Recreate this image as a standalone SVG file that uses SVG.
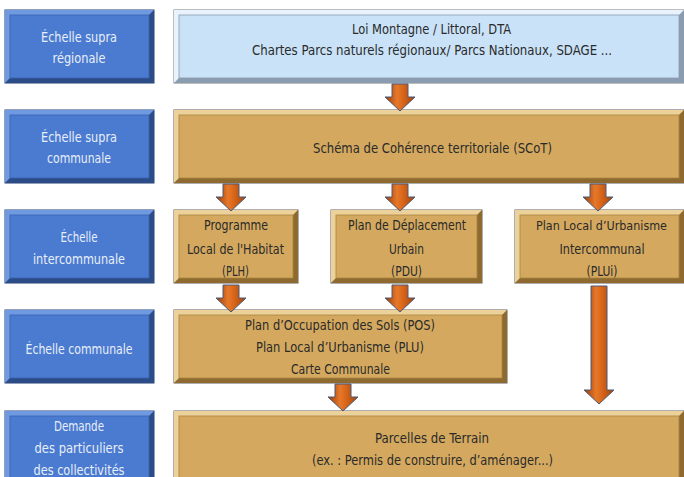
<svg xmlns="http://www.w3.org/2000/svg" xmlns:xlink="http://www.w3.org/1999/xlink" width="684" height="477" viewBox="0 0 684 477">
<style>
text{font-family:"Liberation Sans Narrow","DejaVu Sans Condensed","Liberation Sans",sans-serif;font-size:14.5px;text-anchor:middle}
.tb{fill:#e9eef7}
.td{fill:#2a2a2a}
.sm{font-size:13px}
.bo{fill:#4a7bd1;stroke:#27406e;stroke-width:1}
.bl{fill:#6f9ae2}
.bd{fill:#2c4c88}
.bi{fill:#4a7bd1;stroke:#3a63ac;stroke-width:0.8}
.go{fill:#d4a95f;stroke:#5e5e5e;stroke-width:1}
.gl{fill:#ecd29a}
.gd{fill:#8e6a30}
.gi{fill:#d4a95f;stroke:#a8843f;stroke-width:0.8}
.lo{fill:#c9e2f8;stroke:#7d7d7d;stroke-width:1}
.ll{fill:#e8f3fd}
.ld{fill:#8a9cb0}
.li{fill:#c9e2f8;stroke:#8d9bab;stroke-width:0.8}
.arr{fill:url(#ag);stroke:#4a5a78;stroke-width:1}
</style>
<defs>
<linearGradient id="ag" x1="0" y1="0" x2="1" y2="0">
<stop offset="0" stop-color="#9a3a08"/>
<stop offset="0.4" stop-color="#e6782a"/>
<stop offset="0.6" stop-color="#d8661a"/>
<stop offset="1" stop-color="#a0420c"/>
</linearGradient>
<g id="blueBox">
<rect class="bo" x="0" y="0" width="149" height="73"/>
<polygon class="bl" points="0,0 149,0 144,5 5,5 5,68 0,73"/>
<polygon class="bd" points="149,0 149,73 0,73 5,68 144,68 144,5"/>
<rect class="bi" x="5" y="5" width="139" height="63"/>
</g>
<path id="arrS" class="arr" d="M-8,0 H8 V13 H15 L0,27 L-15,13 H-8 Z"/>
<path id="arrL" class="arr" d="M-8,0 H8 V104 H15 L0,118 L-15,104 H-8 Z"/>
</defs>
<rect width="684" height="477" fill="#ffffff"/>

<g id="scale-supra-regionale">
<use xlink:href="#blueBox" x="5" y="10"/>
<text class="tb" x="79" y="42" textLength="76" lengthAdjust="spacingAndGlyphs">Échelle supra</text>
<text class="tb" x="79" y="63" textLength="53" lengthAdjust="spacingAndGlyphs">régionale</text>
</g>
<g id="scale-supra-communale">
<use xlink:href="#blueBox" x="5" y="110"/>
<text class="tb" x="79" y="142" textLength="76" lengthAdjust="spacingAndGlyphs">Échelle supra</text>
<text class="tb" x="79" y="163" textLength="64" lengthAdjust="spacingAndGlyphs">communale</text>
</g>
<g id="scale-intercommunale">
<use xlink:href="#blueBox" x="5" y="210"/>
<text class="tb" x="79" y="242" textLength="37" lengthAdjust="spacingAndGlyphs">Échelle</text>
<text class="tb" x="79" y="264" textLength="92" lengthAdjust="spacingAndGlyphs">intercommunale</text>
</g>
<g id="scale-communale">
<use xlink:href="#blueBox" x="5" y="310"/>
<text class="tb" x="79" y="354" textLength="107" lengthAdjust="spacingAndGlyphs">Échelle communale</text>
</g>
<g id="scale-demande" transform="translate(5,411)">
<rect class="bo" x="0" y="0" width="149" height="80"/>
<polygon class="bl" points="0,0 149,0 144,5 5,5 5,75 0,80"/>
<polygon class="bd" points="149,0 149,80 0,80 5,75 144,75 144,5"/>
<rect class="bi" x="5" y="5" width="139" height="70"/>
<text class="tb" x="74" y="20" textLength="50" lengthAdjust="spacingAndGlyphs">Demande</text>
<text class="tb" x="74" y="42" textLength="89" lengthAdjust="spacingAndGlyphs">des particuliers</text>
<text class="tb" x="74" y="64" textLength="91" lengthAdjust="spacingAndGlyphs">des collectivités</text>
</g>

<g id="loi-montagne" transform="translate(174,10)">
<rect class="lo" x="0" y="0" width="510" height="73"/>
<polygon class="ll" points="0,0 510,0 505,5 5,5 5,68 0,73"/>
<polygon class="ld" points="510,0 510,73 0,73 5,68 505,68 505,5"/>
<rect class="li" x="5" y="5" width="500" height="63"/>
<text class="td" x="257.5" y="24" textLength="159" lengthAdjust="spacingAndGlyphs">Loi Montagne / Littoral, DTA</text>
<text class="td" x="258" y="45" textLength="360" lengthAdjust="spacingAndGlyphs">Chartes Parcs naturels régionaux/ Parcs Nationaux, SDAGE ...</text>
</g>
<g id="scot" transform="translate(174,110)">
<rect class="go" x="0" y="0" width="510" height="73"/>
<polygon class="gl" points="0,0 510,0 505,5 5,5 5,68 0,73"/>
<polygon class="gd" points="510,0 510,73 0,73 5,68 505,68 505,5"/>
<rect class="gi" x="5" y="5" width="500" height="63"/>
<text class="td" x="258.5" y="43" textLength="239" lengthAdjust="spacingAndGlyphs">Schéma de Cohérence territoriale (SCoT)</text>
</g>
<g id="plh" transform="translate(174,210)">
<rect class="go" x="0" y="0" width="124" height="73"/>
<polygon class="gl" points="0,0 124,0 119,5 5,5 5,68 0,73"/>
<polygon class="gd" points="124,0 124,73 0,73 5,68 119,68 119,5"/>
<rect class="gi" x="5" y="5" width="114" height="63"/>
<text class="td" x="62" y="20" textLength="64" lengthAdjust="spacingAndGlyphs">Programme</text>
<text class="td" x="61.5" y="44" textLength="97" lengthAdjust="spacingAndGlyphs">Local de l'Habitat</text>
<text class="td" x="61.5" y="66" textLength="27" lengthAdjust="spacingAndGlyphs">(PLH)</text>
</g>
<g id="pdu" transform="translate(331,210)">
<rect class="go" x="0" y="0" width="151" height="73"/>
<polygon class="gl" points="0,0 151,0 146,5 5,5 5,68 0,73"/>
<polygon class="gd" points="151,0 151,73 0,73 5,68 146,68 146,5"/>
<rect class="gi" x="5" y="5" width="141" height="63"/>
<text class="td" x="76" y="20" textLength="118" lengthAdjust="spacingAndGlyphs">Plan de Déplacement</text>
<text class="td" x="75.5" y="44" textLength="35" lengthAdjust="spacingAndGlyphs">Urbain</text>
<text class="td" x="75.5" y="66" textLength="31" lengthAdjust="spacingAndGlyphs">(PDU)</text>
</g>
<g id="plui" transform="translate(515,210)">
<rect class="go" x="0" y="0" width="169" height="73"/>
<polygon class="gl" points="0,0 169,0 164,5 5,5 5,68 0,73"/>
<polygon class="gd" points="169,0 169,73 0,73 5,68 164,68 164,5"/>
<rect class="gi" x="5" y="5" width="159" height="63"/>
<text class="td sm" x="86.5" y="20" textLength="131" lengthAdjust="spacingAndGlyphs">Plan Local d’Urbanisme</text>
<text class="td" x="87" y="44" textLength="85" lengthAdjust="spacingAndGlyphs">Intercommunal</text>
<text class="td" x="87" y="66" textLength="31" lengthAdjust="spacingAndGlyphs">(PLUi)</text>
</g>
<g id="plu" transform="translate(174,310)">
<rect class="go" x="0" y="0" width="333" height="73"/>
<polygon class="gl" points="0,0 333,0 328,5 5,5 5,68 0,73"/>
<polygon class="gd" points="333,0 333,73 0,73 5,68 328,68 328,5"/>
<rect class="gi" x="5" y="5" width="323" height="63"/>
<text class="td" x="166" y="20" textLength="190" lengthAdjust="spacingAndGlyphs">Plan d’Occupation des Sols (POS)</text>
<text class="td" x="166" y="42" textLength="168" lengthAdjust="spacingAndGlyphs">Plan Local d’Urbanisme (PLU)</text>
<text class="td" x="166.5" y="64" textLength="99" lengthAdjust="spacingAndGlyphs">Carte Communale</text>
</g>
<g id="parcelles" transform="translate(174,411)">
<rect class="go" x="0" y="0" width="510" height="80"/>
<polygon class="gl" points="0,0 510,0 505,5 5,5 5,75 0,80"/>
<polygon class="gd" points="510,0 510,80 0,80 5,75 505,75 505,5"/>
<rect class="gi" x="5" y="5" width="500" height="70"/>
<text class="td" x="258" y="32" textLength="114" lengthAdjust="spacingAndGlyphs">Parcelles de Terrain</text>
<text class="td" x="258.5" y="54" textLength="241" lengthAdjust="spacingAndGlyphs">(ex. : Permis de construire, d’aménager...)</text>
</g>

<g id="connectors">
<use xlink:href="#arrS" x="400" y="84"/>
<use xlink:href="#arrS" x="231" y="184"/>
<use xlink:href="#arrS" x="400" y="184"/>
<use xlink:href="#arrS" x="598" y="184"/>
<use xlink:href="#arrS" x="231" y="285"/>
<use xlink:href="#arrS" x="400" y="285"/>
<use xlink:href="#arrL" x="599" y="286"/>
<use xlink:href="#arrS" x="343" y="384"/>
</g>
</svg>
